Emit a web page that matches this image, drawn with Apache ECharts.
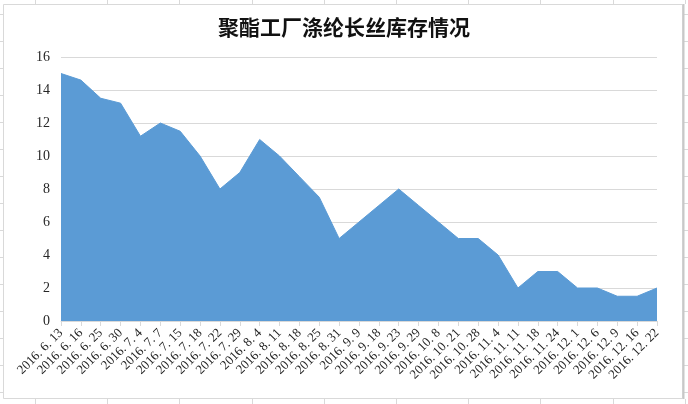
<!DOCTYPE html>
<html>
<head>
<meta charset="utf-8">
<script src="https://cdn.jsdelivr.net/npm/echarts@6/dist/echarts.min.js"></script>
<style>
html,body{margin:0;padding:0;background:#fff;}
#c{width:688px;height:404px;}
</style>
</head>
<body>
<div id="c"></div>
<script>
var titleText = '聚酯工厂涤纶长丝库存情况';
var categories = ['2016. 6. 13','2016. 6. 16','2016. 6. 25','2016. 6. 30','2016. 7. 4','2016. 7. 7','2016. 7. 15','2016. 7. 18','2016. 7. 22','2016. 7. 29','2016. 8. 4','2016. 8. 11','2016. 8. 18','2016. 8. 25','2016. 8. 31','2016. 9. 9','2016. 9. 18','2016. 9. 23','2016. 9. 29','2016. 10. 8','2016. 10. 21','2016. 10. 28','2016. 11. 4','2016. 11. 11','2016. 11. 18','2016. 11. 24','2016. 12. 1','2016. 12. 6','2016. 12. 9','2016. 12. 16','2016. 12. 22'];
var inventory = [15, 14.6, 13.5, 13.2, 11.2, 12, 11.5, 10, 8, 9, 11, 10, 8.75, 7.5, 5, 6, 7, 8, 7, 6, 5, 5, 4, 2, 3, 3, 2, 2, 1.5, 1.5, 2];
var yTicks = {min: 0, max: 16, interval: 2};

var chart = echarts.init(document.getElementById('c'), null, {renderer: 'canvas'});

// decorative spreadsheet cell lines around the chart frame
var deco = [];
var cellLine = {stroke: '#d9d9d9', lineWidth: 1};
for (var x = 35; x < 688; x += 72.2) {
  deco.push({type: 'line', silent: true, shape: {x1: Math.round(x) + 0.5, y1: 0, x2: Math.round(x) + 0.5, y2: 4}, style: cellLine});
  deco.push({type: 'line', silent: true, shape: {x1: Math.round(x) + 0.5, y1: 399, x2: Math.round(x) + 0.5, y2: 404}, style: cellLine});
}
for (var y = 14; y < 404; y += 27) {
  deco.push({type: 'line', silent: true, shape: {x1: 0, y1: Math.round(y) + 0.5, x2: 3, y2: Math.round(y) + 0.5}, style: cellLine});
  deco.push({type: 'line', silent: true, shape: {x1: 683, y1: Math.round(y) + 0.5, x2: 688, y2: Math.round(y) + 0.5}, style: cellLine});
}
deco.push({type: 'rect', silent: true, shape: {x: 3.5, y: 4.5, width: 679, height: 394}, style: {fill: null, stroke: '#d9d9d9', lineWidth: 1}});
deco.push({type: 'line', silent: true, shape: {x1: 683.5, y1: 4, x2: 683.5, y2: 399}, style: {stroke: '#c8c8c8', lineWidth: 2}});

chart.setOption({
  animation: false,
  backgroundColor: '#ffffff',
  title: {
    text: titleText,
    left: 'center',
    top: 12,
    textStyle: {fontFamily: 'Noto Sans CJK SC', fontWeight: 'bold', fontSize: 21, color: '#111111'}
  },
  graphic: deco,
  grid: {left: 61, right: 31, top: 57, bottom: 83, containLabel: false},
  xAxis: {
    type: 'category',
    data: categories,
    boundaryGap: false,
    axisLine: {lineStyle: {color: '#d9d9d9', width: 1}},
    axisTick: {show: true, interval: 0, length: 5, lineStyle: {color: '#d9d9d9'}},
    axisLabel: {
      interval: 0,
      rotate: 45,
      margin: 10,
      fontFamily: 'Liberation Serif',
      fontSize: 13,
      color: '#262626'
    },
    splitLine: {show: false}
  },
  yAxis: {
    type: 'value',
    min: yTicks.min,
    max: yTicks.max,
    interval: yTicks.interval,
    axisLine: {show: false},
    axisTick: {show: false},
    axisLabel: {margin: 11, fontFamily: 'Liberation Serif', fontSize: 14, color: '#262626'},
    splitLine: {lineStyle: {color: '#d9d9d9', width: 1}}
  },
  series: [{
    type: 'line',
    data: inventory,
    showSymbol: false,
    symbol: 'none',
    lineStyle: {color: '#5b9bd5', width: 1},
    areaStyle: {color: '#5b9bd5', opacity: 1},
    itemStyle: {color: '#5b9bd5'}
  }]
});
</script>
</body>
</html>
